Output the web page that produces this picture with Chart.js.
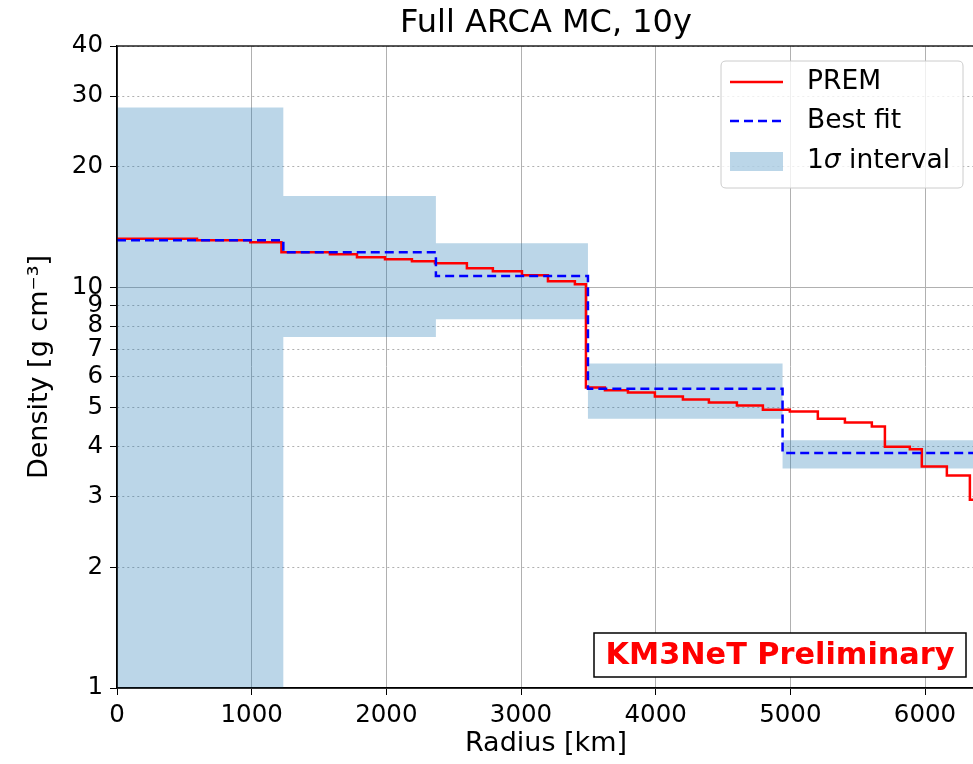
<!DOCTYPE html>
<html>
<head>
<meta charset="utf-8">
<script src="https://cdn.jsdelivr.net/npm/chart.js@4.4.0/dist/chart.umd.min.js"></script>
<style>
  html, body { margin: 0; padding: 0; background: #fff; overflow: hidden; }
</style>
</head>
<body>
<canvas id="densityChart" width="980" height="764"></canvas>
<script>
var premEdges = [0, 594, 990, 1221, 1581, 1782, 1990, 2190, 2361, 2598, 2791, 3007, 3200, 3400,
  3482, 3623, 3794, 3994, 4202, 4395, 4603, 4796, 4996, 5204, 5405, 5605, 5702, 5887, 5976, 6162, 6333, 6371];
var premDensity = [13.22, 13.11, 12.96, 12.23, 12.09, 11.89, 11.75, 11.61, 11.48, 11.15, 10.96, 10.72, 10.35, 10.17,
  5.62, 5.53, 5.46, 5.34, 5.25, 5.16, 5.07, 4.95, 4.90, 4.70, 4.60, 4.49, 4.00, 3.94, 3.57, 3.39, 2.95];

// best fit layers and their 1 sigma band
var fitEdges = [0, 1235, 2368, 3497, 4942, 6371];
var fitDensity = [13.11, 12.22, 10.67, 5.58, 3.86];
var bandUpper = [28.1, 16.9, 12.87, 6.45, 4.15];
var bandLower = [0.5, 7.51, 8.32, 4.70, 3.53];

var radiusTicks = [0, 1000, 2000, 3000, 4000, 5000, 6000];
var densityTicks = [1, 2, 3, 4, 5, 6, 7, 8, 9, 10, 20, 30, 40];

var FONT = '"DejaVu Sans", sans-serif';
Chart.defaults.font.family = FONT;
Chart.defaults.color = '#000';

function steps(edges, values) {
  return edges.map(function(x, i) {
    return { x: x, y: values[Math.min(i, values.length - 1)] };
  });
}

// black box around the plot area, like matplotlib spines
var framePlugin = {
  id: 'frame',
  afterDatasetsDraw: function(chart) {
    var ctx = chart.ctx, a = chart.chartArea;
    ctx.save();
    ctx.strokeStyle = '#000';
    ctx.lineWidth = 1.3;
    ctx.strokeRect(a.left, a.top, a.right - a.left, a.bottom - a.top);
    ctx.restore();
  }
};

function roundRect(ctx, x, y, w, h, r) {
  ctx.beginPath();
  ctx.moveTo(x + r, y);
  ctx.lineTo(x + w - r, y);
  ctx.quadraticCurveTo(x + w, y, x + w, y + r);
  ctx.lineTo(x + w, y + h - r);
  ctx.quadraticCurveTo(x + w, y + h, x + w - r, y + h);
  ctx.lineTo(x + r, y + h);
  ctx.quadraticCurveTo(x, y + h, x, y + h - r);
  ctx.lineTo(x, y + r);
  ctx.quadraticCurveTo(x, y, x + r, y);
  ctx.closePath();
}

// matplotlib style legend in the upper right corner
var legendPlugin = {
  id: 'fitLegend',
  afterDraw: function(chart) {
    var ctx = chart.ctx, a = chart.chartArea;
    var ds = chart.data.datasets;
    var x0 = a.right - 254, y0 = a.top + 15;
    var lf = '26.5px ' + FONT;
    ctx.save();
    roundRect(ctx, x0, y0, 242, 127, 5);
    ctx.fillStyle = 'rgba(255,255,255,0.8)';
    ctx.fill();
    ctx.strokeStyle = '#cccccc';
    ctx.lineWidth = 1;
    ctx.stroke();

    var hx = x0 + 9, hw = 53, tx = x0 + 86;
    ctx.font = lf;
    ctx.fillStyle = '#000';
    ctx.textBaseline = 'middle';

    // PREM
    var y = y0 + 21;
    ctx.strokeStyle = ds[1].borderColor;
    ctx.lineWidth = ds[1].borderWidth;
    ctx.beginPath(); ctx.moveTo(hx, y); ctx.lineTo(hx + hw, y); ctx.stroke();
    ctx.fillText(ds[1].label, tx, y);

    // Best fit
    y = y0 + 60;
    ctx.strokeStyle = ds[0].borderColor;
    ctx.lineWidth = ds[0].borderWidth;
    ctx.setLineDash(ds[0].borderDash);
    ctx.beginPath(); ctx.moveTo(hx, y); ctx.lineTo(hx + hw, y); ctx.stroke();
    ctx.setLineDash([]);
    ctx.fillText(ds[0].label, tx, y);

    // band
    y = y0 + 100;
    ctx.fillStyle = ds[2].backgroundColor;
    ctx.fillRect(hx, y - 9, hw, 19);
    ctx.fillStyle = '#000';
    ctx.fillText('1', tx, y);
    var w1 = ctx.measureText('1').width;
    ctx.font = 'italic ' + lf;
    ctx.fillText('\u03c3', tx + w1, y);
    var w2 = ctx.measureText('\u03c3').width;
    ctx.font = lf;
    ctx.fillText(' interval', tx + w1 + w2, y);
    ctx.restore();
  }
};

var stampPlugin = {
  id: 'stamp',
  afterDraw: function(chart) {
    var ctx = chart.ctx, a = chart.chartArea;
    var bx = a.right - 381, by = a.bottom - 55, bw = 372, bh = 44;
    ctx.save();
    ctx.fillStyle = '#fff';
    ctx.fillRect(bx, by, bw, bh);
    ctx.strokeStyle = '#000';
    ctx.lineWidth = 1.5;
    ctx.strokeRect(bx, by, bw, bh);
    ctx.fillStyle = '#ff0000';
    ctx.font = 'bold 30.3px ' + FONT;
    ctx.textAlign = 'center';
    ctx.textBaseline = 'alphabetic';
    ctx.fillText('KM3NeT Preliminary', bx + bw / 2, by + 31);
    ctx.restore();
  }
};

var ctx = document.getElementById('densityChart').getContext('2d');
var densityChart = new Chart(ctx, {
  type: 'line',
  data: {
    datasets: [
      {
        label: 'Best fit',
        data: steps(fitEdges, fitDensity),
        borderColor: '#0000ff',
        borderWidth: 2.5,
        borderDash: [9, 5],
        stepped: true,
        pointRadius: 0,
        fill: false,
        order: 0
      },
      {
        label: 'PREM',
        data: steps(premEdges, premDensity),
        borderColor: '#ff0000',
        borderWidth: 2.5,
        stepped: true,
        pointRadius: 0,
        fill: false,
        order: 1
      },
      {
        label: '1\u03c3 interval',
        data: steps(fitEdges, bandUpper),
        borderColor: 'transparent',
        borderWidth: 0,
        backgroundColor: 'rgba(31,119,180,0.3)',
        stepped: true,
        pointRadius: 0,
        fill: '+1',
        order: 2
      },
      {
        label: 'lower',
        data: steps(fitEdges, bandLower),
        borderColor: 'transparent',
        borderWidth: 0,
        stepped: true,
        pointRadius: 0,
        fill: false,
        order: 3
      }
    ]
  },
  options: {
    responsive: false,
    animation: false,
    layout: { padding: { left: 0, right: 5, top: 0, bottom: 0 } },
    plugins: {
      legend: { display: false },
      tooltip: { enabled: false },
      title: {
        display: true,
        text: 'Full ARCA MC, 10y',
        fullSize: false,
        color: '#000',
        font: { size: 32, weight: 'normal' },
        padding: { top: 4, bottom: 3.6 }
      }
    },
    scales: {
      x: {
        type: 'linear',
        min: 0,
        max: 6371,
        afterBuildTicks: function(scale) {
          scale.ticks = radiusTicks.map(function(v) { return { value: v }; });
        },
        afterFit: function(scale) { scale.height = 76; },
        ticks: {
          font: { size: 24.5 },
          color: '#000',
          padding: 6,
          maxRotation: 0,
          autoSkip: false,
          callback: function(value) { return String(value); }
        },
        grid: { color: '#b0b0b0', lineWidth: 1, tickColor: '#000', tickLength: 7 },
        border: { color: '#000', width: 1.3 },
        title: {
          display: true,
          text: 'Radius [km]',
          color: '#000',
          font: { size: 27 },
          padding: { top: 0, bottom: 4 }
        }
      },
      y: {
        type: 'logarithmic',
        min: 1,
        max: 40,
        afterBuildTicks: function(scale) {
          scale.ticks = densityTicks.map(function(v) { return { value: v }; });
        },
        afterFit: function(scale) { scale.width = 117; },
        ticks: {
          font: { size: 24.5 },
          color: '#000',
          padding: 7,
          autoSkip: false,
          callback: function(value) { return String(value); }
        },
        grid: { color: '#b0b0b0', lineWidth: 1, tickColor: '#000', tickLength: 7 },
        border: {
          color: '#000',
          width: 1.3,
          dash: function(c) {
            if (c.tick && (c.tick.value === 1 || c.tick.value === 10)) return [];
            return [2, 3];
          }
        },
        title: {
          display: true,
          text: 'Density [g cm\u207b\u00b3]',
          color: '#000',
          font: { size: 27 },
          padding: { top: 24, bottom: 0 }
        }
      }
    }
  },
  plugins: [framePlugin, legendPlugin, stampPlugin]
});
</script>
</body>
</html>
